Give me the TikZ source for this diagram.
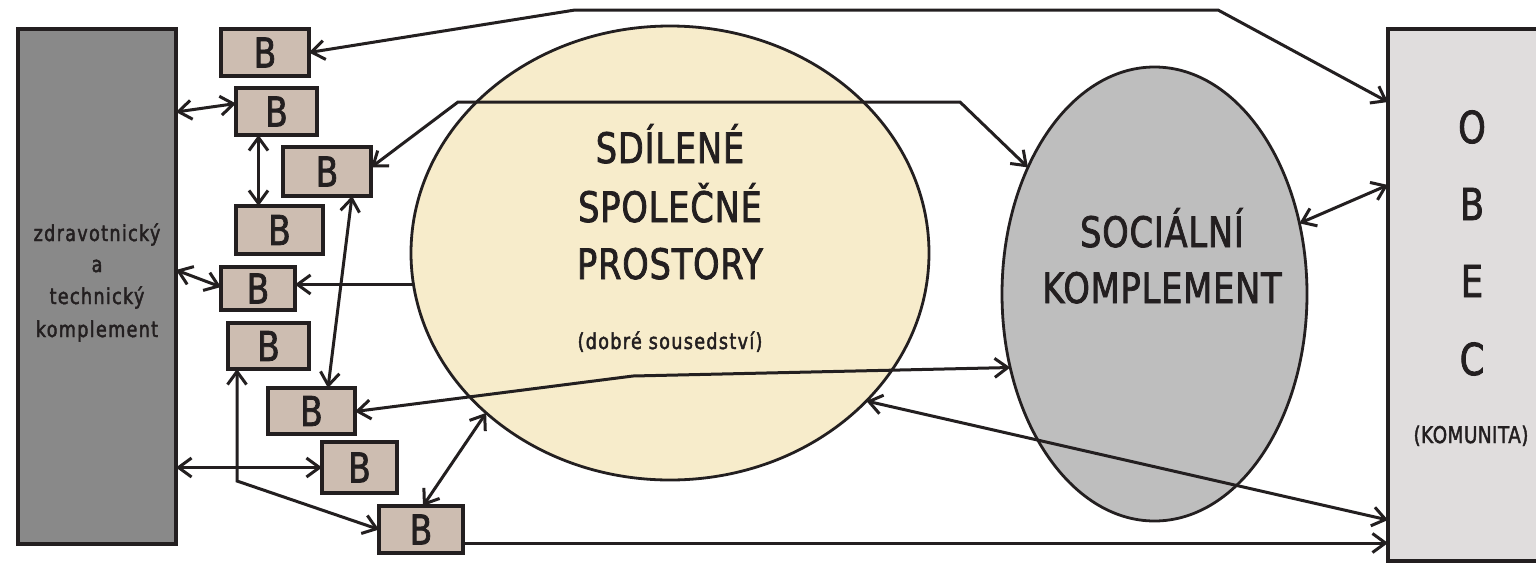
\documentclass[tikz,border=0pt]{standalone}
\usepackage{fontspec}
\setmainfont{DejaVu Sans}
\newfontfamily\bigf[FakeStretch=0.8,LetterSpace=2,FakeBold=1.8]{DejaVu Sans}
\newfontfamily\smallf[FakeStretch=0.8,LetterSpace=6,FakeBold=2]{DejaVu Sans}
\usetikzlibrary{shapes.geometric,arrows.meta}
\definecolor{ink}{HTML}{231F20}
\definecolor{darkg}{HTML}{898989}
\definecolor{bfill}{HTML}{CDBDB1}
\definecolor{yel}{HTML}{F7ECCB}
\definecolor{skg}{HTML}{BEBEBE}
\definecolor{obecg}{HTML}{E0DDDD}
\begin{document}
\begin{tikzpicture}[x=1pt,y=-1pt,
  >={Straight Barb[length=13pt,width=19pt]},
  conn/.style={draw=ink,line width=3pt},
  rect/.style={draw=ink,line width=3.2pt,outer sep=0pt,inner sep=0pt},
  bbox/.style={rect,fill=bfill,text=ink,font=\bigf\fontsize{41pt}{41pt}\selectfont},
  egg/.style={ellipse,draw=ink,line width=2.8pt,inner sep=0pt,outer sep=0pt},
  bigtxt/.style={anchor=base,inner sep=0pt,text=ink,font=\bigf\fontsize{42pt}{42pt}\selectfont},
  obectxt/.style={anchor=base,inner sep=0pt,text=ink,font=\bigf\fontsize{44pt}{44pt}\selectfont},
  smalltxt/.style={anchor=base,inner sep=0pt,text=ink,font=\smallf\fontsize{22pt}{22pt}\selectfont}
]
\useasboundingbox (0,0) rectangle (1536,563);
\fill[white] (0,0) rectangle (1536,563);

% big shapes
\node[rect,fill=darkg,minimum width=158pt,minimum height=515pt] (zt) at (97,286.5) {};
\node[rect,fill=obecg,minimum width=170pt,minimum height=532pt,anchor=north west] (obec) at (1388,29) {};
\node[egg,fill=yel,minimum width=518pt,minimum height=454pt] (sp) at (670,253) {};
\node[egg,fill=skg,minimum width=305pt,minimum height=454pt] (sk) at (1154.5,294) {};

% texts
\node[smalltxt] (zt1) at (97,241) {zdravotnický};
\node[smalltxt] (zt2) at (97,272) {a};
\node[smalltxt] (zt3) at (97,304) {technický};
\node[smalltxt] (zt4) at (97,337) {komplement};

\node[bigtxt] (sp1) at (670,163) {SDÍLENÉ};
\node[bigtxt] (sp2) at (670,222) {SPOLEČNÉ};
\node[bigtxt] (sp3) at (670,279) {PROSTORY};
\node[smalltxt] (sp4) at (670,349) {(dobré sousedství)};

\node[bigtxt] (sk1) at (1162,247) {SOCIÁLNÍ};
\node[bigtxt] (sk2) at (1162,303) {KOMPLEMENT};

\node[obectxt] (o1) at (1472,143) {O};
\node[obectxt] (o2) at (1472,220) {B};
\node[obectxt] (o3) at (1472,297) {E};
\node[obectxt] (o4) at (1472,375) {C};
\node[anchor=base,inner sep=0pt,text=ink,font=\bigf\fontsize{23pt}{23pt}\selectfont] (o5) at (1471,443) {(KOMUNITA)};

% B boxes
\node[bbox,minimum width=88pt,minimum height=47pt] (B1) at (265,52.5) {B};
\node[bbox,minimum width=81pt,minimum height=47pt] (B2) at (276.5,111.5) {B};
\node[bbox,minimum width=88pt,minimum height=49pt] (B3) at (327,171.5) {B};
\node[bbox,minimum width=87pt,minimum height=48pt] (B4) at (279.5,230) {B};
\node[bbox,minimum width=74pt,minimum height=43pt] (B5) at (258,288.5) {B};
\node[bbox,minimum width=81pt,minimum height=46pt] (B6) at (268.5,346) {B};
\node[bbox,minimum width=87pt,minimum height=46pt] (B7) at (311.5,411) {B};
\node[bbox,minimum width=75pt,minimum height=51pt] (B8) at (359.5,467.5) {B};
\node[bbox,minimum width=84pt,minimum height=47pt] (B9) at (421,529.5) {B};

% bend points
\coordinate (t1) at (575,10);
\coordinate (t2) at (1218,10);
\coordinate (m1) at (458,102);
\coordinate (m2) at (960,102);
\coordinate (k1) at (633,376);
\coordinate (v1) at (237,481);
\coordinate (b9r) at ([yshift=-13.5pt]B9.east);

% connectors
\draw[conn,<->] (B1.east) -- (t1) -- (t2) -- ([yshift=-73pt]obec.north west);
\draw[conn,<->] ([yshift=-83pt]zt.north east) -- ([yshift=8pt]B2.west);
\draw[conn,<->] ([xshift=-18pt]B2.south) -- ([xshift=-21pt]B4.north);
\draw[conn,<->] ([yshift=4pt]B3.east) -- (m1) -- (m2) -- (sk.135);
\draw[conn,<->] ([yshift=-241pt]zt.north east) -- ([yshift=1.5pt]B5.west);
\draw[conn,->] (sp.187) -- (sp.187 -| B5.east);
\draw[conn,<->] ([xshift=25pt]B3.south) -- ([xshift=16.5pt]B7.north);
\draw[conn,<->] ([yshift=-0.5pt]B7.east) -- (k1) -- (sk.207);
\draw[conn,<->] (zt.east |- B8.west) -- (B8.west);
\draw[conn,<->] (B9.west) -- (v1) -- ([xshift=-31.5pt]B6.south);
\draw[conn,<->] ([xshift=2pt]B9.north) -- (sp.221);
\draw[conn,->] (b9r) -- (b9r -| obec.west);
\draw[conn,<->] (sp.323) -- ([yshift=-491pt]obec.north west);
\draw[conn,<->] (sk.26) -- ([yshift=-156pt]obec.north west);
\end{tikzpicture}
\end{document}
